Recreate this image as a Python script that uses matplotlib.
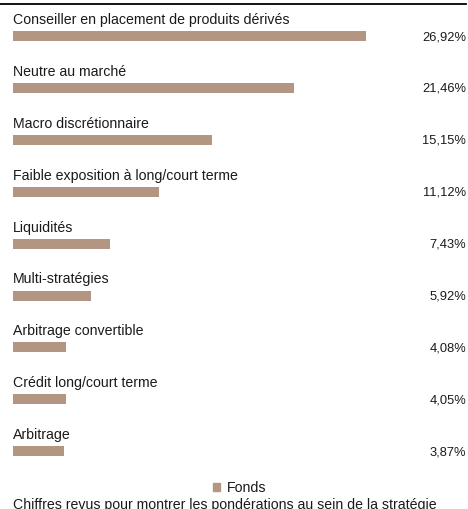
import matplotlib
matplotlib.use("Agg")
import matplotlib.pyplot as plt
import numpy as np

categories = [
    "Conseiller en placement de produits dérivés",
    "Neutre au marché",
    "Macro discrétionnaire",
    "Faible exposition à long/court terme",
    "Liquidités",
    "Multi-stratégies",
    "Arbitrage convertible",
    "Crédit long/court terme",
    "Arbitrage",
]
values = [26.92, 21.46, 15.15, 11.12, 7.43, 5.92, 4.08, 4.05, 3.87]
value_labels = ["26,92%", "21,46%", "15,15%", "11,12%", "7,43%", "5,92%", "4,08%", "4,05%", "3,87%"]
series_name = "Fonds"
footnote = "Chiffres revus pour montrer les pondérations au sein de la stratégie"

W, H = 468, 510
DPI = 100
color = "#b39682"
plt.rcParams['font.family'] = ['Liberation Sans', 'DejaVu Sans']

fig = plt.figure(figsize=(W / DPI, H / DPI), dpi=DPI)
ax = fig.add_axes([0, 0, 1, 1])

px_per_pct = 13.11
x0 = 13
ax.set_xlim(-x0 / px_per_pct, (W - x0) / px_per_pct)
row0 = 37
spacing = 51.9
ax.set_ylim((H - row0) / spacing, -row0 / spacing)
ax.axis("off")

ypos = np.arange(len(values))
ax.barh(ypos, values, height=10 / spacing, color=color, left=0)

xr = (466 - x0) / px_per_pct
for i, (cat, lab) in enumerate(zip(categories, value_labels)):
    ax.text(0, i - 13 / spacing, cat, fontsize=10.2, ha="left", va="baseline", color="#1a1a1a")
    ax.text(xr, i + 3 / spacing, lab, fontsize=9.3, ha="right", va="baseline", color="#1a1a1a")

# top rule
fig.add_artist(plt.Line2D([0, 466 / W], [1 - 4.5 / H, 1 - 4.5 / H], color="black", lw=1.3))

# legend
fig.patches.append(plt.Rectangle((213 / W, 1 - 492 / H), 7 / W, 8 / H, transform=fig.transFigure,
                                 color=color, figure=fig))
fig.text(227 / W, 1 - 492 / H, series_name, fontsize=10.2, ha="left", va="baseline", color="#1a1a1a")
fig.text(13 / W, 1 - 509 / H, footnote, fontsize=10.2, ha="left", va="baseline", color="#1a1a1a")

fig.savefig("out.png", dpi=DPI)
